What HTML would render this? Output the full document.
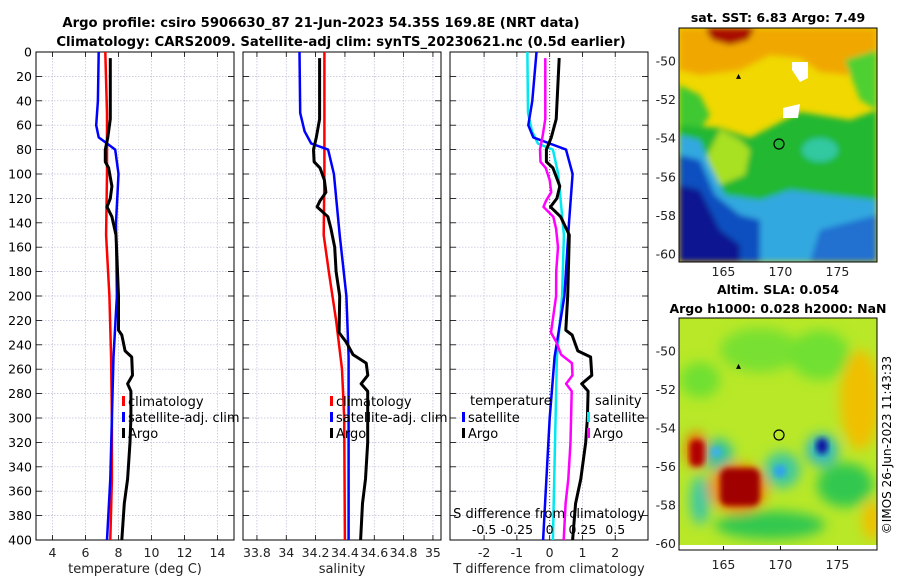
<!DOCTYPE html>
<html><head><meta charset="utf-8"><style>
html,body{margin:0;padding:0;background:#fff;}
svg{display:block;font-family:"DejaVu Sans","Liberation Sans",sans-serif;}
</style></head><body>
<svg id="chart" width="900" height="580" viewBox="0 0 900 580">
<defs>
<filter id="blur2" x="-20%" y="-20%" width="140%" height="140%"><feGaussianBlur stdDeviation="3"/></filter>
<filter id="blur5" x="-30%" y="-30%" width="160%" height="160%"><feGaussianBlur stdDeviation="6"/></filter>
<clipPath id="clipm1"><rect x="679" y="28" width="198" height="234"/></clipPath>
<clipPath id="clipm2"><rect x="679" y="318" width="198" height="227"/></clipPath>
</defs>
<g font-weight="bold" font-size="13.2" text-anchor="middle">
<text x="321" y="27">Argo profile: csiro 5906630_87 21-Jun-2023 54.35S 169.8E (NRT data)</text>
<text x="341" y="46">Climatology: CARS2009. Satellite-adj clim: synTS_20230621.nc (0.5d earlier)</text>
</g>
<g id="plots"></g>

<g>
<text x="778" y="22" font-weight="bold" font-size="12.5" text-anchor="middle">sat. SST: 6.83 Argo: 7.49</text>
<g clip-path="url(#clipm1)">
<rect x="679" y="28" width="198" height="234" fill="#f0d800"/>
<g filter="url(#blur2)">
<path d="M679,28 H877 V70 L850,75 L820,72 L800,58 L770,55 L740,70 L700,75 L679,70 Z" fill="#f0a800"/>
<path d="M705,28 H755 L748,40 L730,45 L712,40 Z" fill="#a81000"/>
<path d="M845,60 L877,50 V110 L860,100 Z" fill="#50d030"/>
<path d="M679,85 L700,95 L710,115 L700,130 L679,130 Z" fill="#40c830"/>
<path d="M679,125 L720,128 L750,138 L800,112 L850,120 L877,110 V262 H679 Z" fill="#20b830"/>
<path d="M720,130 L740,140 L750,150 L745,175 L720,185 L705,160 Z" fill="#a8e020"/>
<path d="M679,135 L700,140 L710,165 L725,195 L760,200 L790,190 L830,195 L877,200 V262 H679 Z" fill="#30a8e0"/>
<path d="M679,155 L700,160 L715,195 L740,215 L760,220 L760,262 H679 Z" fill="#1050c0"/>
<path d="M679,185 L700,190 L720,230 L740,245 L740,262 H679 Z" fill="#0a1890"/>
<path d="M820,230 L877,215 V262 H810 Z" fill="#2070d0"/>
<ellipse cx="820" cy="150" rx="18" ry="12" fill="#30c8a0"/>
</g>
<path d="M792,62 L808,62 L808,78 L800,82 L792,70 Z M783,108 L800,104 L798,118 L783,118 Z" fill="#fff"/>
</g>
<rect x="679" y="28" width="198" height="234" fill="none" stroke="#000"/>
<circle cx="779" cy="144" r="5" fill="none" stroke="#000" stroke-width="1.2"/>
<text x="736" y="79" font-size="10" font-weight="bold">▴</text>
</g>

<g>
<text x="778" y="294" font-weight="bold" font-size="12.5" text-anchor="middle">Altim. SLA: 0.054</text>
<text x="778" y="313" font-weight="bold" font-size="12.5" text-anchor="middle">Argo h1000: 0.028 h2000: NaN</text>
<g clip-path="url(#clipm2)">
<rect x="679" y="318" width="198" height="227" fill="#b8e828"/>
<g filter="url(#blur5)">
<ellipse cx="760" cy="350" rx="40" ry="22" fill="#78e030"/>
<ellipse cx="820" cy="355" rx="30" ry="25" fill="#70e030"/>
<ellipse cx="700" cy="380" rx="20" ry="18" fill="#70e030"/>
<ellipse cx="860" cy="400" rx="20" ry="50" fill="#f0c000"/>
<ellipse cx="872" cy="520" rx="10" ry="20" fill="#f0c000"/>
<ellipse cx="845" cy="485" rx="28" ry="22" fill="#30c850"/>
<ellipse cx="770" cy="525" rx="55" ry="14" fill="#30c850"/>
<ellipse cx="700" cy="500" rx="10" ry="25" fill="#40c8a0"/>
<ellipse cx="718" cy="455" rx="15" ry="16" fill="#30c0a0"/>
<ellipse cx="696" cy="450" rx="10" ry="18" fill="#f06000"/>
<ellipse cx="738" cy="488" rx="30" ry="25" fill="#f09000"/>
<ellipse cx="782" cy="470" rx="18" ry="18" fill="#40c8a0"/>
<ellipse cx="822" cy="450" rx="16" ry="16" fill="#30b8c0"/>
</g>
<rect x="720" y="468" width="40" height="38" rx="8" fill="#a00000" filter="url(#blur2)"/>
<rect x="690" y="440" width="14" height="26" rx="5" fill="#b00000" filter="url(#blur2)"/>
<circle cx="716" cy="452" r="5" fill="#40b0f0" filter="url(#blur2)"/>
<circle cx="780" cy="471" r="6" fill="#30a0f0" filter="url(#blur2)"/>
<ellipse cx="822" cy="446" rx="6" ry="8" fill="#0818a0" filter="url(#blur2)"/>
</g>
<rect x="679" y="318" width="198" height="232" fill="none" stroke="#000"/>
<circle cx="779" cy="435" r="5" fill="none" stroke="#000" stroke-width="1.2"/>
<text x="736" y="369" font-size="10" font-weight="bold">▴</text>
</g>
<text transform="translate(891,445) rotate(-90)" font-size="12" text-anchor="middle">©IMOS 26-Jun-2023 11:43:33</text>
</svg>
<script>
const climDepth = [0,50,100,150,200,250,300,350,400];
const climTemp = [7.2,7.3,7.3,7.25,7.45,7.55,7.6,7.6,7.5];
const satDepth = [0,40,60,70,75,80,100,140,200,250,300,350,400];
const satTemp = [6.8,6.75,6.65,6.8,7.3,7.8,8.0,7.85,7.9,7.7,7.6,7.5,7.3];
const argoDepth = [5,55,70,80,90,95,110,120,127,135,150,200,228,232,245,250,265,272,278,300,320,350,370,400];
const argoTemp = [7.5,7.5,7.35,7.2,7.2,7.4,7.6,7.5,7.3,7.6,7.85,8.0,8.0,8.2,8.4,8.8,8.85,8.55,8.75,8.75,8.7,8.55,8.35,8.2];
const climSDepth = [0,100,150,180,220,260,300,400];
const climSal = [34.26,34.26,34.255,34.29,34.34,34.38,34.395,34.4];
const satSDepth = [0,50,65,75,80,100,150,200,250,400];
const satSal = [34.09,34.095,34.125,34.17,34.285,34.325,34.364,34.41,34.425,34.425];
const argoSDepth = [5,55,70,80,90,95,105,115,122,127,135,145,160,180,200,230,238,248,255,265,272,278,320,350,370,400];
const argoSal = [34.227,34.227,34.205,34.186,34.19,34.23,34.26,34.27,34.23,34.21,34.284,34.305,34.33,34.34,34.364,34.36,34.41,34.455,34.545,34.556,34.51,34.555,34.555,34.54,34.52,34.507];
const depthTicks = [0,20,40,60,80,100,120,140,160,180,200,220,240,260,280,300,320,340,360,380,400];
const tempTicks = [4,6,8,10,12,14];
const salTicks = [33.8,34,34.2,34.4,34.6,34.8,35];
const tdiffTicks = [-2,-1,0,1,2];
const sdiffTicks = [-0.5,-0.25,0,0.25,0.5];

const NS='http://www.w3.org/2000/svg';
const rootG=document.getElementById('plots');
function mk(tag,attrs,parent){const e=document.createElementNS(NS,tag);for(const k in attrs)e.setAttribute(k,attrs[k]);(parent||rootG).appendChild(e);return e;}
const yTop=52,yBot=540;
const yS=d=>yTop+(yBot-yTop)*d/400;
function interp(ds,vs,d){if(d<=ds[0])return vs[0];for(let i=1;i<ds.length;i++){if(d<=ds[i]){const t=(d-ds[i-1])/(ds[i]-ds[i-1]);return vs[i-1]+t*(vs[i]-vs[i-1]);}}return vs[vs.length-1];}

function panel(x0,name,dmin,dmax,ticks,xlabel,leftLabels){
  const w=198, xs=v=>x0+(v-dmin)/(dmax-dmin)*w;
  const g=mk('g',{});
  
  
  depthTicks.forEach(d=>{
    mk('line',{x1:x0,x2:x0+w,y1:yS(d),y2:yS(d),stroke:'#b8bcd8','stroke-width':0.7,'stroke-dasharray':'1.5,1.5'},g);
    mk('line',{x1:x0,x2:x0+6,y1:yS(d),y2:yS(d),stroke:'#000','stroke-width':0.8},g);
    mk('line',{x1:x0+w-6,x2:x0+w,y1:yS(d),y2:yS(d),stroke:'#000','stroke-width':0.8},g);
    if(leftLabels){const t=mk('text',{x:x0-4,y:yS(d)+4.5,'font-size':12.5,'text-anchor':'end'},g);t.textContent=d;
      
      }
  });
  ticks.forEach(v=>{
    mk('line',{x1:xs(v),x2:xs(v),y1:yTop,y2:yBot,stroke:'#b8bcd8','stroke-width':0.7,'stroke-dasharray':'1.5,1.5'},g);
    mk('line',{x1:xs(v),x2:xs(v),y1:yBot,y2:yBot-5,stroke:'#000','stroke-width':0.8},g);
    mk('line',{x1:xs(v),x2:xs(v),y1:yTop,y2:yTop+5,stroke:'#000','stroke-width':0.8},g);
    const t=mk('text',{x:xs(v),y:yBot+17,'font-size':12.5,'text-anchor':'middle',fill:'#222'},g);t.textContent=v;
    
    
  });
  mk('rect',{x:x0,y:yTop,width:w,height:yBot-yTop,fill:'none',stroke:'#000','stroke-width':1},g);
  const xl=mk('text',{x:x0+w/2,y:yBot+33,'font-size':13,'text-anchor':'middle',fill:'#222'},g);xl.textContent=xlabel;
  
  
  return {g,xs};
}
function line(p,ds,vs,color,name){
  const d=ds.map((dd,i)=>(i?'L':'M')+p.xs(vs[i]).toFixed(1)+','+yS(dd).toFixed(1)).join('');
  const e=mk('path',{d:d,fill:'none',stroke:color,'stroke-width':color==='#000'?3:2.5,'stroke-linejoin':'round'},p.g);
  
  
}
function legendEntry(g,x,y,color,label){
  mk('rect',{x:x,y:y-9,width:3,height:10,fill:color},g);
  const t=mk('text',{x:x+6,y:y+1,'font-size':13},g);t.textContent=label;
  
  
}

const p1=panel(36,'temperature-panel',3,15,tempTicks,'temperature (deg C)',true);
line(p1,climDepth,climTemp,'#f00','temp-climatology-line');
line(p1,satDepth,satTemp,'#00f','temp-satellite-line');
line(p1,argoDepth,argoTemp,'#000','temp-argo-line');
legendEntry(p1.g,122,405,'#f00','climatology');
legendEntry(p1.g,122,421,'#00f','satellite-adj. clim');
legendEntry(p1.g,122,437,'#000','Argo');

const p2=panel(243,'salinity-panel',33.705,35.055,salTicks,'salinity',false);
line(p2,climSDepth,climSal,'#f00','sal-climatology-line');
line(p2,satSDepth,satSal,'#00f','sal-satellite-line');
line(p2,argoSDepth,argoSal,'#000','sal-argo-line');
legendEntry(p2.g,330,405,'#f00','climatology');
legendEntry(p2.g,330,421,'#00f','satellite-adj. clim');
legendEntry(p2.g,330,437,'#000','Argo');

const p3=panel(450,'difference-panel',-3.04,3.0,tdiffTicks,'T difference from climatology',false);
mk('line',{x1:p3.xs(0),x2:p3.xs(0),y1:yTop,y2:yBot,stroke:'#555','stroke-width':1,'stroke-dasharray':'1,2'},p3.g);
const dT=(ds,vs)=>vs.map((v,i)=>v-interp(climDepth,climTemp,ds[i]));
const dS=(ds,vs)=>vs.map((v,i)=>4*(v-interp(climSDepth,climSal,ds[i])));
line(p3,satSDepth,dS(satSDepth,satSal),'#00e8f0','sdiff-satellite-line');
line(p3,satDepth,dT(satDepth,satTemp),'#00f','tdiff-satellite-line');
line(p3,argoSDepth,dS(argoSDepth,argoSal),'#f0f','sdiff-argo-line');
line(p3,argoDepth,dT(argoDepth,argoTemp),'#000','tdiff-argo-line');
const lt=mk('text',{x:470,y:405,'font-size':13},p3.g);lt.textContent='temperature';
legendEntry(p3.g,462,421,'#00f','satellite');
legendEntry(p3.g,462,437,'#000','Argo');
const ls=mk('text',{x:595,y:405,'font-size':13},p3.g);ls.textContent='salinity';
legendEntry(p3.g,587,421,'#00e8f0','satellite');
legendEntry(p3.g,587,437,'#f0f','Argo');
const st=mk('text',{x:549,y:518,'font-size':13,'text-anchor':'middle'},p3.g);st.textContent='S difference from climatology';


sdiffTicks.forEach(v=>{const t=mk('text',{x:p3.xs(v*4),y:534,'font-size':12.5,'text-anchor':'middle'},p3.g);t.textContent=v;
  
  });

function mapAxes(x0,y0,h,latTop,latBot,labY){
  const lonX=l=>x0+(l-161.1)*11.4;
  const latY=l=>y0+(latTop-l)/(latTop-latBot)*h;
  [165,170,175].forEach(l=>{mk('line',{x1:lonX(l),x2:lonX(l),y1:y0+h,y2:y0+h-4,stroke:'#000'});
    const t=mk('text',{x:lonX(l),y:labY,'font-size':12.5,'text-anchor':'middle',fill:'#222'});t.textContent=l;
    
    });
  [-50,-52,-54,-56,-58,-60].forEach(l=>{mk('line',{x1:x0+198,x2:x0+194,y1:latY(l),y2:latY(l),stroke:'#000'});
    const t=mk('text',{x:x0-3,y:latY(l)+4.5,'font-size':12.5,'text-anchor':'end',fill:'#222'});t.textContent=l;
    
    });
}
mapAxes(679,28,234,-48.29,-60.41,276);
mapAxes(679,318,232,-48.29,-60.34,569);
</script>
</body></html>
